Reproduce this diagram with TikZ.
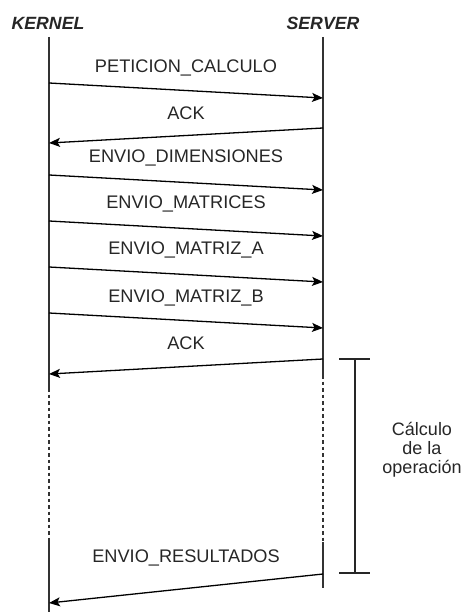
\documentclass[tikz,border=0pt]{standalone}
\usepackage{fontspec}
\setmainfont{Liberation Sans}
\usetikzlibrary{arrows.meta}

\begin{document}
\begin{tikzpicture}[
    x=1pt, y=-1pt,
    actor/.style={font=\fontsize{17.7}{20}\selectfont\bfseries\itshape, text=black!85},
    lifeline/.style={line width=2.6pt, draw=black!80},
    idle/.style={line width=1.1pt, draw=black!80, dash pattern=on 3.5pt off 3pt},
    msg/.style={-{Stealth[length=11pt, width=9pt, inset=2.5pt]}, line width=1.3pt},
    msglabel/.style={font=\fontsize{18.2}{21}\selectfont, text=black!85},
    bracket/.style={line width=1.2pt, draw=black!85},
    note/.style={font=\fontsize{18}{19}\selectfont, text=black!85, align=center}
]
    \useasboundingbox (0,0) rectangle (464,612);

    \node[actor] (kernel) at (48,23) {KERNEL};
    \node[actor] (server) at (323,23) {SERVER};

    \coordinate (k-top) at (49,37);
    \coordinate (k-idle) at (49,388);
    \coordinate (k-back) at (49,540);
    \coordinate (k-end) at (49,612);
    \coordinate (s-top) at (323,37);
    \coordinate (s-idle) at (323,375);
    \coordinate (s-back) at (323,542);
    \coordinate (s-end) at (323,588);

    \draw[lifeline] (k-top) -- (k-idle);
    \draw[idle] (k-idle) -- (k-back);
    \draw[lifeline] (k-back) -- (k-end);
    \draw[lifeline] (s-top) -- (s-idle);
    \draw[idle] (s-idle) -- (s-back);
    \draw[lifeline] (s-back) -- (s-end);

    \foreach \i/\txt/\ty/\ky/\sy/\from/\to in {
        1/PETICION\_CALCULO/68/83/98/k/s,
        2/ACK/113/143/128/s/k,
        3/ENVIO\_DIMENSIONES/158/175/190/k/s,
        4/ENVIO\_MATRICES/204/221/236/k/s,
        5/ENVIO\_MATRIZ\_A/250/267/282/k/s,
        6/ENVIO\_MATRIZ\_B/298/313/328/k/s,
        7/ACK/343/374/359/s/k,
        8/ENVIO\_RESULTADOS/558/603/574/s/k}
    {
        \coordinate (k\i) at (49,\ky);
        \coordinate (s\i) at (323,\sy);
        \node[msglabel] (m\i) at (186,\ty) {\txt};
        \draw[msg] (\from\i) -- (\to\i);
    }

    \coordinate (calc-top) at (355,359);
    \coordinate (calc-bot) at (355,573);
    \draw[bracket] ([xshift=-16pt]calc-top) -- ([xshift=15pt]calc-top);
    \draw[bracket] ([xshift=-16pt]calc-bot) -- ([xshift=15pt]calc-bot);
    \draw[bracket] (calc-top) -- (calc-bot);
    \node[note] (calc) at (422,450) {Cálculo\\de la\\operación};
\end{tikzpicture}
\end{document}
